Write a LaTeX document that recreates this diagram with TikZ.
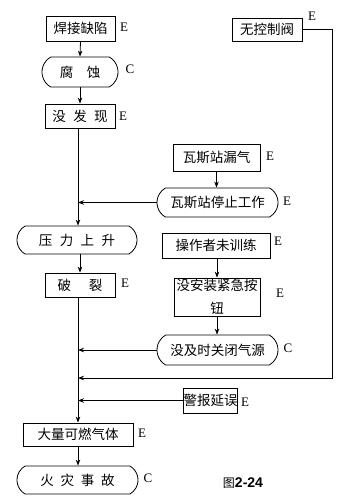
\documentclass[tikz,border=0pt]{standalone}
\usepackage{fontspec}
\setmainfont{Liberation Serif}
\newfontfamily\cjk{Noto Sans CJK SC}
\newfontfamily\capsans{Liberation Sans}
\usetikzlibrary{arrows.meta,shapes.misc}
\newcommand\zgap[1]{\hspace{#1em}}
\begin{document}
\begin{tikzpicture}[x=1pt,y=-1pt,
  every node/.style={inner sep=0pt},
  boxfont/.style={font=\cjk\fontsize{13.5}{23}\selectfont},
  sq/.style={draw, rectangle, boxfont, line width=0.8pt},
  rd/.style={draw, rounded rectangle, rounded rectangle arc length=120, boxfont, line width=0.8pt},
  lab/.style={font=\fontsize{13}{15}\selectfont},
  arr/.style={-{Stealth[length=6pt,width=4.5pt]}, line width=0.8pt},
  ln/.style={line width=0.8pt}]
\useasboundingbox (0,0) rectangle (350,500);
% left column
\node[sq, minimum width=69pt, minimum height=25pt] (n1) at (80.5,28.5) {焊接缺陷};
\node[rd, minimum width=76pt, minimum height=30pt] (n2) at (80,72) {腐\zgap{1}蚀};
\node[sq, minimum width=70pt, minimum height=24pt] (n3) at (80,116) {没\zgap{0.55}发\zgap{0.55}现};
\node[rd, minimum width=120pt, minimum height=28pt] (n4) at (77,240) {压\zgap{0.55}力\zgap{0.55}上\zgap{0.55}升};
\node[sq, minimum width=70pt, minimum height=24pt] (n5) at (80,285) {破\zgap{1.3}裂};
\node[sq, minimum width=110pt, minimum height=23pt] (n6) at (78,434.5) {大量可燃气体};
\node[rd, minimum width=121pt, minimum height=28pt] (n7) at (77.5,480) {火\zgap{0.5}灾\zgap{0.5}事\zgap{0.5}故};
% right column
\node[sq, minimum width=70pt, minimum height=23pt] (m1) at (267,29.5) {无控制阀};
\node[sq, minimum width=87pt, minimum height=27pt] (m2) at (216.5,157.5) {瓦斯站漏气};
\node[rd, minimum width=121pt, minimum height=29pt] (m3) at (217.5,202.5) {瓦斯站停止工作};
\node[sq, minimum width=108pt, minimum height=25pt] (m4) at (216,245.5) {操作者未训练};
\node[sq, minimum width=86pt, minimum height=38pt, align=center] (m5) at (217,297) {没安装紧急按\\钮};
\node[rd, minimum width=121pt, minimum height=30pt] (m6) at (217.5,350) {没及时关闭气源};
\node[sq, minimum width=54pt, minimum height=25pt] (m7) at (210.5,400.5) {警报延误};
% labels
\node[lab] (e1) at (124,27) {E};
\node[lab] (e2) at (130,69) {C};
\node[lab] (e3) at (123,116) {E};
\node[lab] (e5) at (125,283) {E};
\node[lab] (e6) at (142,433) {E};
\node[lab] (e7) at (148,478) {C};
\node[lab] (f1) at (312,16) {E};
\node[lab] (f2) at (270,156) {E};
\node[lab] (f3) at (287,201) {E};
\node[lab] (f4) at (278,241) {E};
\node[lab] (f5) at (280,293) {E};
\node[lab] (f6) at (288,348) {C};
\node[lab] (f7) at (245,402) {E};
\node (cap) at (243,483) {{\cjk\fontsize{12}{14}\selectfont 图}{\capsans\bfseries\fontsize{14}{16}\selectfont 2-24}};
% connectors
\coordinate (spine) at (78,0);
\coordinate (loop) at (332,378);
\draw[arr] (n1.south) -- (n2.north);
\draw[arr] (n2.south) -- (n3.north);
\draw[arr] (n3.south -| spine) -- (n4.north -| spine);
\draw[arr] (n4.south -| n5.north) -- (n5.north);
\draw[arr] (n5.south -| spine) -- (n6.north -| spine);
\draw[arr] (n6.south) -- (n7.north -| n6.south);
\draw[arr] (m2.south) -- (m3.north -| m2.south);
\draw[arr] (m3.west) -- (m3.west -| spine);
\draw[arr] (m4.south -| m5.north) -- (m5.north);
\draw[arr] (m5.south) -- (m6.north -| m5.south);
\draw[arr] (m6.west) -- (m6.west -| spine);
\draw[arr] (m1.east) -| (loop) -- (loop -| spine);
\draw[arr] (m7.west) -- (m7.west -| spine);
\end{tikzpicture}
\end{document}
